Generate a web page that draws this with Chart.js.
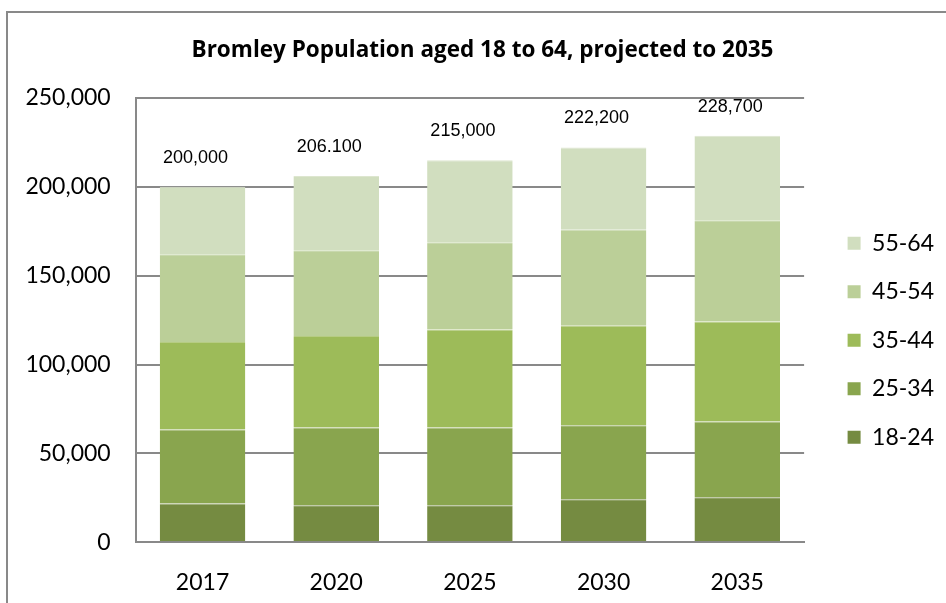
<!DOCTYPE html>
<html>
<head>
<meta charset="utf-8">
<title>Bromley Population aged 18 to 64</title>
<script src="https://cdn.jsdelivr.net/npm/chart.js@4.4.1/dist/chart.umd.min.js"></script>
<style>
  html, body { margin: 0; padding: 0; background: #fff; overflow: hidden; }
  .frame {
    position: absolute; left: 6px; top: 11px; width: 2000px; height: 2000px;
    border: 2px solid #898989; box-sizing: border-box;
  }
  .wrap { position: absolute; left: 0; top: 0; width: 946px; height: 603px; }
</style>
</head>
<body>
<div class="frame"></div>
<div class="wrap"><canvas id="popChart"></canvas></div>
<script>
// Years and age bands
const years = ['2017', '2020', '2025', '2030', '2035'];
const ageBands = ['18-24', '25-34', '35-44', '45-54', '55-64'];

// Population per age band, one value per year
const age18to24 = [21900, 20800, 20800, 24200, 25300];
const age25to34 = [41600, 43800, 43800, 41700, 42700];
const age35to44 = [49200, 51500, 55100, 56000, 56200];
const age45to54 = [49400, 48300, 49200, 53900, 57000];
const age55to64 = [37900, 41700, 46100, 46400, 47500];

// Totals written above each bar
const totalLabels = ['200,000', '206.100', '215,000', '222,200', '228,700'];

const yTicks = [0, 50000, 100000, 150000, 200000, 250000];

const bandColors = ['#758b41', '#89a54e', '#9dbb59', '#bbcf98', '#d1debf'];
// lighter edge drawn on top of each segment
const bandEdges = ['#98a870', '#a7bc7a', '#b6cc83', '#ccdbb2', '#dde6cf'];

const seriesValues = [age18to24, age25to34, age35to44, age45to54, age55to64];

// Text with the total above each stacked column
const totalsPlugin = {
  id: 'totals',
  afterDatasetsDraw(chart) {
    const ctx = chart.ctx;
    const topMeta = chart.getDatasetMeta(chart.data.datasets.length - 1);
    ctx.save();
    ctx.font = '18px "Liberation Sans", Arial, sans-serif';
    ctx.fillStyle = '#000';
    ctx.textAlign = 'center';
    ctx.textBaseline = 'middle';
    topMeta.data.forEach((bar, i) => {
      ctx.fillText(totalLabels[i], bar.x - 7, bar.y - 29);
    });
    ctx.restore();
  }
};

const ctx = document.getElementById('popChart').getContext('2d');
new Chart(ctx, {
  type: 'bar',
  data: {
    labels: years,
    datasets: ageBands.map((band, i) => ({
      label: band,
      data: seriesValues[i],
      backgroundColor: bandColors[i],
      borderColor: bandEdges[i],
      borderWidth: { top: 1, right: 0, bottom: 0, left: 0 },
      borderSkipped: false,
      barPercentage: 0.64,
      categoryPercentage: 1.0
    }))
  },
  options: {
    responsive: true,
    maintainAspectRatio: false,
    animation: false,
    layout: { padding: { left: 21, right: 2, top: 0, bottom: 0 } },
    plugins: {
      title: {
        display: true,
        text: 'Bromley Population aged 18 to 64, projected to 2035',
        color: '#000',
        font: { family: '"Open Sans"', size: 22.5, weight: 'bold' },
        padding: { top: 37, bottom: 34 }
      },
      legend: {
        position: 'right',
        reverse: true,
        fullSize: false,
        title: { display: true, text: '', font: { size: 10 }, padding: { top: 28, bottom: 0 } },
        labels: {
          color: '#000',
          font: { family: 'Lato', size: 23 },
          boxWidth: 13,
          boxHeight: 13,
          padding: 25.5,
          generateLabels(chart) {
            const items = Chart.defaults.plugins.legend.labels.generateLabels(chart);
            items.forEach(item => { item.lineWidth = 0; item.strokeStyle = 'rgba(0,0,0,0)'; });
            return items;
          }
        }
      },
      tooltip: { enabled: false }
    },
    scales: {
      x: {
        stacked: true,
        grid: { display: false },
        border: { display: true, color: '#898989', width: 2 },
        ticks: { color: '#000', font: { family: 'Lato', size: 23 }, padding: 18 },
        afterFit(scale) { scale.height = 60.7; }
      },
      y: {
        stacked: true,
        min: 0,
        max: 250000,
        afterBuildTicks(scale) { scale.ticks = yTicks.map(v => ({ value: v })); },
        grid: { color: '#898989', lineWidth: 2, drawTicks: false },
        border: { display: true, color: '#898989', width: 2 },
        ticks: {
          color: '#000',
          font: { family: 'Lato', size: 23 },
          padding: 25,
          callback: v => v.toLocaleString('en-US')
        },
        afterFit(scale) { scale.width = 114.7; }
      },
      // keeps a gap between the plot and the legend
      gap: {
        type: 'linear',
        position: 'right',
        display: true,
        grid: { display: false },
        border: { display: false },
        ticks: { display: false },
        afterFit(scale) { scale.width = 18; }
      }
    }
  },
  plugins: [totalsPlugin]
});
</script>
</body>
</html>
